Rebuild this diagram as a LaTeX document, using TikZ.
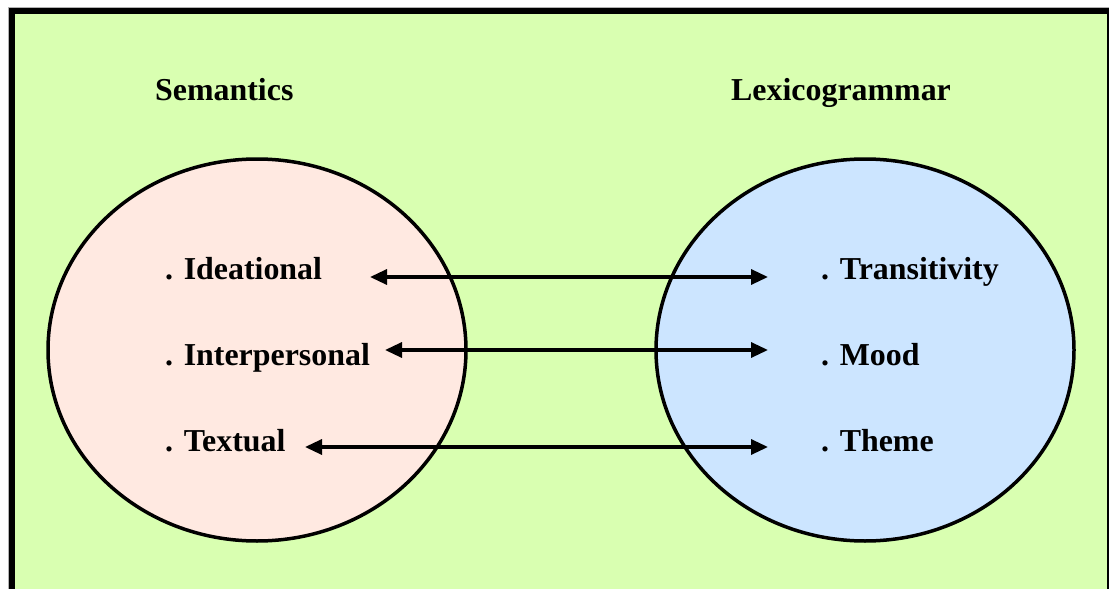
\documentclass[tikz,border=0pt]{standalone}
\usepackage{fontspec}
\setmainfont{Liberation Serif}
\usetikzlibrary{arrows.meta,shapes.geometric}
\definecolor{panelgreen}{RGB}{217,255,177}
\definecolor{sempink}{RGB}{255,233,225}
\definecolor{lexblue}{RGB}{204,229,255}
\begin{document}
\begin{tikzpicture}[x=1pt,y=-1pt,
  txt/.style={font=\fontsize{31.9}{37}\selectfont\bfseries, inner sep=0pt, anchor=base west},
  stratum/.style={ellipse, draw=black, line width=3.5pt, minimum width=418pt, minimum height=382pt, inner sep=0pt},
  link/.style={line width=3.3pt, {Triangle[length=17pt,width=15pt]}-{Triangle[length=17pt,width=15pt]}}]
  \useasboundingbox (0,0) rectangle (1109,589);
  \clip (0,0) rectangle (1109,589);
  % panel with heavy frame (runs past the lower and right edges)
  \fill[panelgreen] (12,11) rectangle (1110,600);
  \draw[gray!60, line width=1pt] (8.5,7.5) rectangle (1114,604);
  \draw[black, line width=6pt] (12,11) rectangle (1110,600);

  % the two strata
  \node[stratum, fill=sempink] (sem) at (257,350) {};
  \node[stratum, fill=lexblue] (lex) at (865,350) {};

  % headings
  \node[txt] (semhead) at (155,100.5) {Semantics};
  \node[txt] (lexhead) at (731,100.5) {Lexicogrammar};

  % metafunctions
  \node[txt] (ideat) at (165,279) {. Ideational};
  \node[txt] (inter) at (165,365.5) {. Interpersonal};
  \node[txt] (textu) at (165,451.5) {. Textual};

  % lexicogrammatical systems
  \node[txt] (trans) at (821,279) {. Transitivity};
  \node[txt] (mood) at (821,365.5) {. Mood};
  \node[txt] (theme) at (821,451.5) {. Theme};

  % arrow ends
  \coordinate (ideatR) at (370,277);
  \coordinate (transL) at (768,277);
  \coordinate (interR) at (385,350);
  \coordinate (moodL) at (768,350);
  \coordinate (textuR) at (305,447);
  \coordinate (themeL) at (768,447);

  \draw[link] (ideatR) -- (transL);
  \draw[link] (interR) -- (moodL);
  \draw[link] (textuR) -- (themeL);
\end{tikzpicture}
\end{document}
